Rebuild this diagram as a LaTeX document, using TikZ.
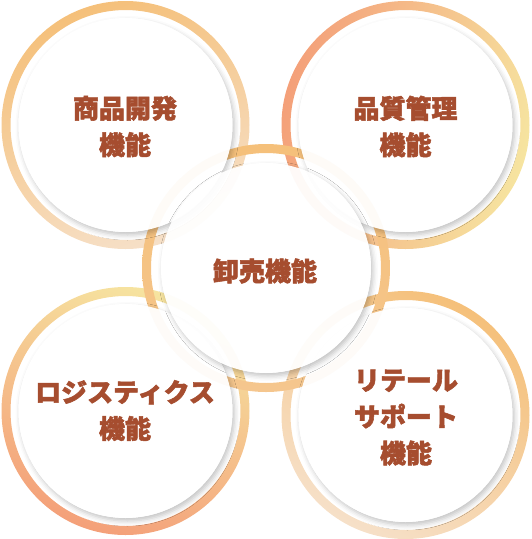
\documentclass[tikz,border=0pt]{standalone}
\usepackage{fontspec}
\newfontfamily\cjk{Noto Sans CJK JP}[BoldFeatures={FakeBold=2}]
\usetikzlibrary{shadows.blur}
\definecolor{txt}{HTML}{A64D2F}
\definecolor{rOr}{HTML}{F5C07A}
\definecolor{rGo}{HTML}{F6CB80}
\definecolor{rPa}{HTML}{F6E0C8}
\definecolor{rSa}{HTML}{F4A079}
\definecolor{rYe}{HTML}{F6E4A0}
\definecolor{rPe}{HTML}{F5C68E}
\tikzset{
  label/.style={text=txt, align=center, font=\cjk\bfseries\fontsize{26}{36.5}\selectfont},
  disc/.style={fill=white, fill opacity=0.94},
  discshadow/.style={blur shadow={shadow xshift=2pt, shadow yshift=-3pt, shadow blur radius=5pt, shadow opacity=24}},
}
\newcommand{\ringAt}[2]{\shade[even odd rule,#2] (#1) circle (124) (#1) circle (115);}
\newcommand{\discAt}[2]{%
  \begin{scope}[even odd rule]
    \clip (-10,-10) rectangle (541,549) (#1) circle (#2);
    \path[discshadow] (#1) circle (#2);
  \end{scope}
  \fill[disc] (#1) circle (#2);}
\begin{document}
\begin{tikzpicture}[x=1pt,y=-1pt]
\useasboundingbox (0,0) rectangle (531,539);
\coordinate (ctl) at (125.5,125);
\coordinate (ctr) at (405.5,125);
\coordinate (cbl) at (125.5,411);
\coordinate (cbr) at (405.5,415);
\coordinate (cc) at (266,268);
% rings
\ringAt{ctl}{top color=rOr, middle color=rGo, bottom color=rPa, shading angle=20}
\ringAt{ctr}{top color=rSa, middle color=rGo, bottom color=rYe, shading angle=75}
\ringAt{cbl}{top color=rYe, middle color=rPe, bottom color=rSa, shading angle=-20}
\ringAt{cbr}{top color=rOr, middle color=rPe, bottom color=rPa, shading angle=-30}
\ringAt{cc}{top color=rOr, middle color=rYe, bottom color=rPe}
% discs
\discAt{ctl}{107}
\discAt{ctr}{107}
\discAt{cbl}{107}
\discAt{cbr}{107}
\discAt{cc}{105}
% labels
\node[label] (tl) at (125,126.5) {商品開発\\機能};
\node[label] (tr) at (405.5,126.5) {品質管理\\機能};
\node[label] (c) at (265,271) {卸売機能};
\node[label] (bl) at (125,410.5) {ロジスティクス\\機能};
\node[label] (br) at (406,417.5) {リテール\\サポート\\機能};
\end{tikzpicture}
\end{document}
